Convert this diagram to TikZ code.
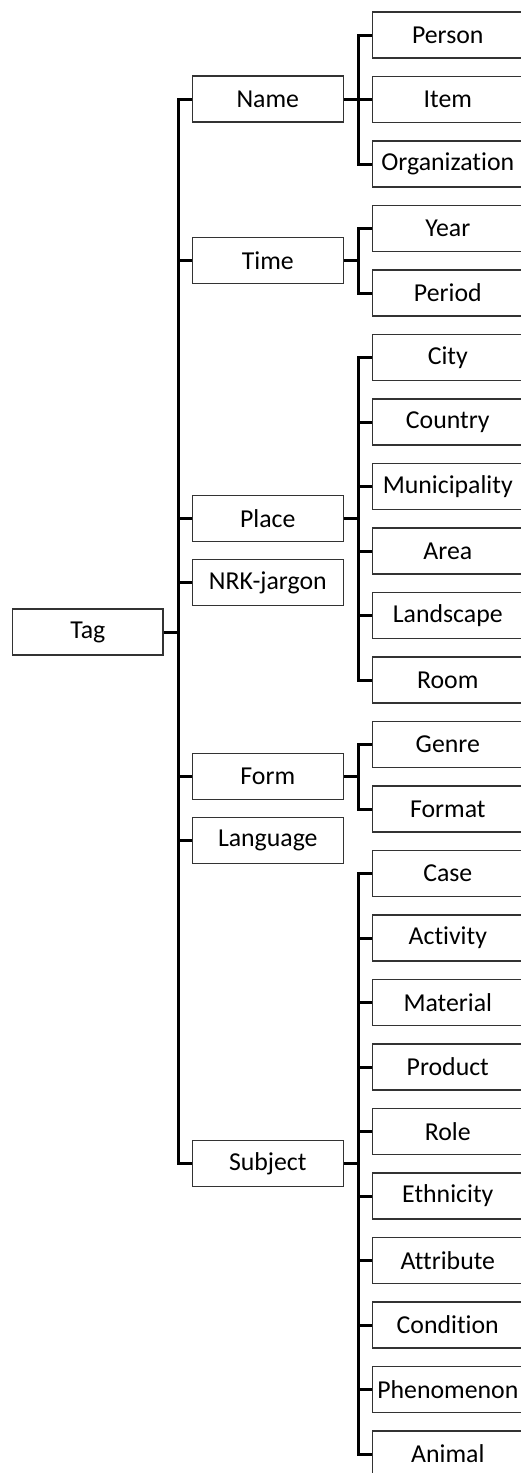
\documentclass[tikz,border=0pt]{standalone}
\usepackage{fontspec}
\setmainfont{Carlito}[Ligatures=NoCommon,RawFeature=-liga]
\begin{document}
\begin{tikzpicture}[x=1pt,y=-1pt,
  box/.style={draw=black!80, line width=1.3pt, rectangle, inner sep=0pt, minimum height=46pt, font=\fontsize{25.8}{30}\selectfont},
  rootbox/.style={box, minimum width=150.3pt},
  midbox/.style={box, minimum width=151pt},
  leafbox/.style={box, minimum width=151pt},
  conn/.style={line width=3pt, black, line join=miter}]
\useasboundingbox (0,0) rectangle (521,1473);
\clip (0,0) rectangle (521,1473);
% root
\node[rootbox] (tag) at (87.85,632) {Tag};
% middle level
\node[midbox] (name) at (267.8,99) {Name};
\node[midbox] (time) at (267.8,260.7) {Time};
\node[midbox] (place) at (267.8,518.7) {Place};
\node[midbox] (nrk) at (267.8,582.5) {NRK-jargon};
\node[midbox] (form) at (267.8,776.7) {Form};
\node[midbox] (lang) at (267.8,840.7) {Language};
\node[midbox] (subject) at (267.8,1163.7) {Subject};
% leaves
\foreach \nm/\txt [count=\i from 0] in {person/Person,item/Item,org/Organization,year/Year,period/Period,city/City,country/Country,muni/Municipality,area/Area,landscape/Landscape,room/Room,genre/Genre,format/Format,case/Case,activity/Activity,material/Material,product/Product,role/Role,ethnicity/Ethnicity,attribute/Attribute,condition/Condition,phenomenon/Phenomenon,animal/Animal}
  \node[leafbox] (\nm) at (447.8,35+64.5*\i) {\txt};
% main connectors
\coordinate (mv) at (178,632);
\draw[conn] (tag.east) -- (mv);
\draw[conn] (name.west) -| (mv) |- (subject.west);
\foreach \n in {time,place,nrk,form,lang}
  \draw[conn] (mv |- \n.west) -- (\n.west);
% Name children
\coordinate (nv) at (358,99);
\draw[conn] (name.east) -- (nv);
\draw[conn] (person.west) -| (nv) |- (org.west);
\draw[conn] (nv |- item.west) -- (item.west);
% Time children
\coordinate (tv) at (358,260.7);
\draw[conn] (time.east) -- (tv);
\draw[conn] (year.west) -| (tv) |- (period.west);
% Place children
\coordinate (pv) at (358,518.7);
\draw[conn] (place.east) -- (pv);
\draw[conn] (city.west) -| (pv) |- (room.west);
\foreach \n in {country,muni,area,landscape}
  \draw[conn] (pv |- \n.west) -- (\n.west);
% Form children
\coordinate (fv) at (358,776.7);
\draw[conn] (form.east) -- (fv);
\draw[conn] (genre.west) -| (fv) |- (format.west);
% Subject children
\coordinate (sv) at (358,1163.7);
\draw[conn] (subject.east) -- (sv);
\draw[conn] (case.west) -| (sv) |- (animal.west);
\foreach \n in {activity,material,product,role,ethnicity,attribute,condition,phenomenon}
  \draw[conn] (sv |- \n.west) -- (\n.west);
\end{tikzpicture}
\end{document}
